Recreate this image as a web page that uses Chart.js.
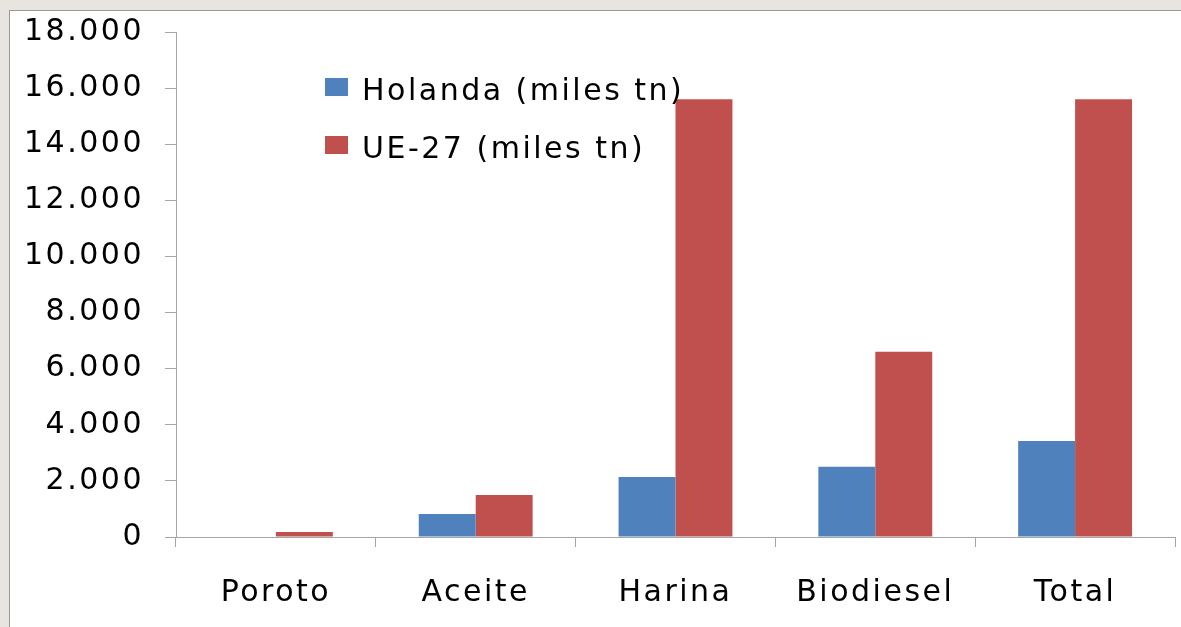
<!DOCTYPE html>
<html>
<head>
<meta charset="utf-8">
<script src="https://cdn.jsdelivr.net/npm/chart.js@4"></script>
<style>
    html, body { margin: 0; padding: 0; }
    body { width: 1181px; height: 627px; background: #e8e5e0; position: relative; overflow: hidden; }
    #frame {
        position: absolute; left: 9px; top: 10px; width: 1172px; height: 617px;
        background: #fff; border-left: 1px solid #999; border-top: 1px solid #999;
    }
    #wrap { position: absolute; left: 0; top: 0; width: 1171px; height: 616px; }
</style>
</head>
<body>
<div id="frame"><div id="wrap"><canvas id="exportChart"></canvas></div></div>
<script>
// categories and series (miles tn)
const categories = ['Poroto', 'Aceite', 'Harina', 'Biodiesel', 'Total'];
const holanda = [0, 820, 2140, 2500, 3420];
const ue27 = [180, 1500, 15600, 6600, 15600];
const seriesNames = ['Holanda (miles tn)', 'UE-27 (miles tn)'];
const yTicks = [0, 2000, 4000, 6000, 8000, 10000, 12000, 14000, 16000, 18000];

const FONT = 'DejaVu Sans';
const SIZE = 30;
const SPACING = '2.5px';

// letter spacing has to be put back after every canvas resize
const spacingPlugin = {
    id: 'spacing',
    beforeUpdate(chart) { chart.ctx.letterSpacing = SPACING; },
    beforeDraw(chart) { chart.ctx.letterSpacing = SPACING; }
};

// legend drawn inside the plot area, like the original
const innerLegend = {
    id: 'innerLegend',
    afterDraw(chart) {
        const ctx = chart.ctx;
        ctx.save();
        ctx.font = SIZE + 'px "' + FONT + '"';
        ctx.textBaseline = 'middle';
        ctx.textAlign = 'left';
        chart.data.datasets.forEach((ds, i) => {
            const y = 67 + i * 58;
            ctx.fillStyle = ds.backgroundColor;
            ctx.fillRect(315, y, 23, 18);
            ctx.fillStyle = '#000';
            ctx.fillText(ds.label, 352, y + 14);
        });
        ctx.restore();
    }
};

const ctx = document.getElementById('exportChart').getContext('2d');
new Chart(ctx, {
    type: 'bar',
    data: {
        labels: categories,
        datasets: [{
            label: seriesNames[0],
            data: holanda,
            backgroundColor: '#4f81bd'
        }, {
            label: seriesNames[1],
            data: ue27,
            backgroundColor: '#c0504d'
        }]
    },
    options: {
        responsive: true,
        maintainAspectRatio: false,
        animation: false,
        layout: { padding: { top: 21, right: 6, left: 0, bottom: 0 } },
        datasets: { bar: { categoryPercentage: 0.57, barPercentage: 1.0 } },
        scales: {
            x: {
                grid: { offset: true, drawOnChartArea: false, tickLength: 10, color: '#a6a6a6' },
                border: { color: '#a6a6a6' },
                ticks: { color: '#000', padding: 28, font: { family: FONT, size: SIZE } },
                afterFit(scale) {
                    scale.height = 90;
                    scale.paddingLeft = 0;
                    scale.paddingRight = 0;
                }
            },
            y: {
                min: 0,
                max: 18000,
                afterBuildTicks(scale) { scale.ticks = yTicks.map(v => ({ value: v })); },
                grid: { drawOnChartArea: false, tickLength: 11, color: '#a6a6a6' },
                border: { color: '#a6a6a6' },
                ticks: {
                    color: '#000',
                    padding: 21,
                    font: { family: FONT, size: SIZE },
                    callback: v => v.toString().replace(/\B(?=(\d{3})+(?!\d))/g, '.')
                },
                afterFit(scale) {
                    scale.width = 166;
                    scale.paddingTop = 0;
                    scale.paddingBottom = 0;
                }
            }
        },
        plugins: {
            legend: { display: false },
            tooltip: { enabled: false }
        }
    },
    plugins: [spacingPlugin, innerLegend]
});
</script>
</body>
</html>
